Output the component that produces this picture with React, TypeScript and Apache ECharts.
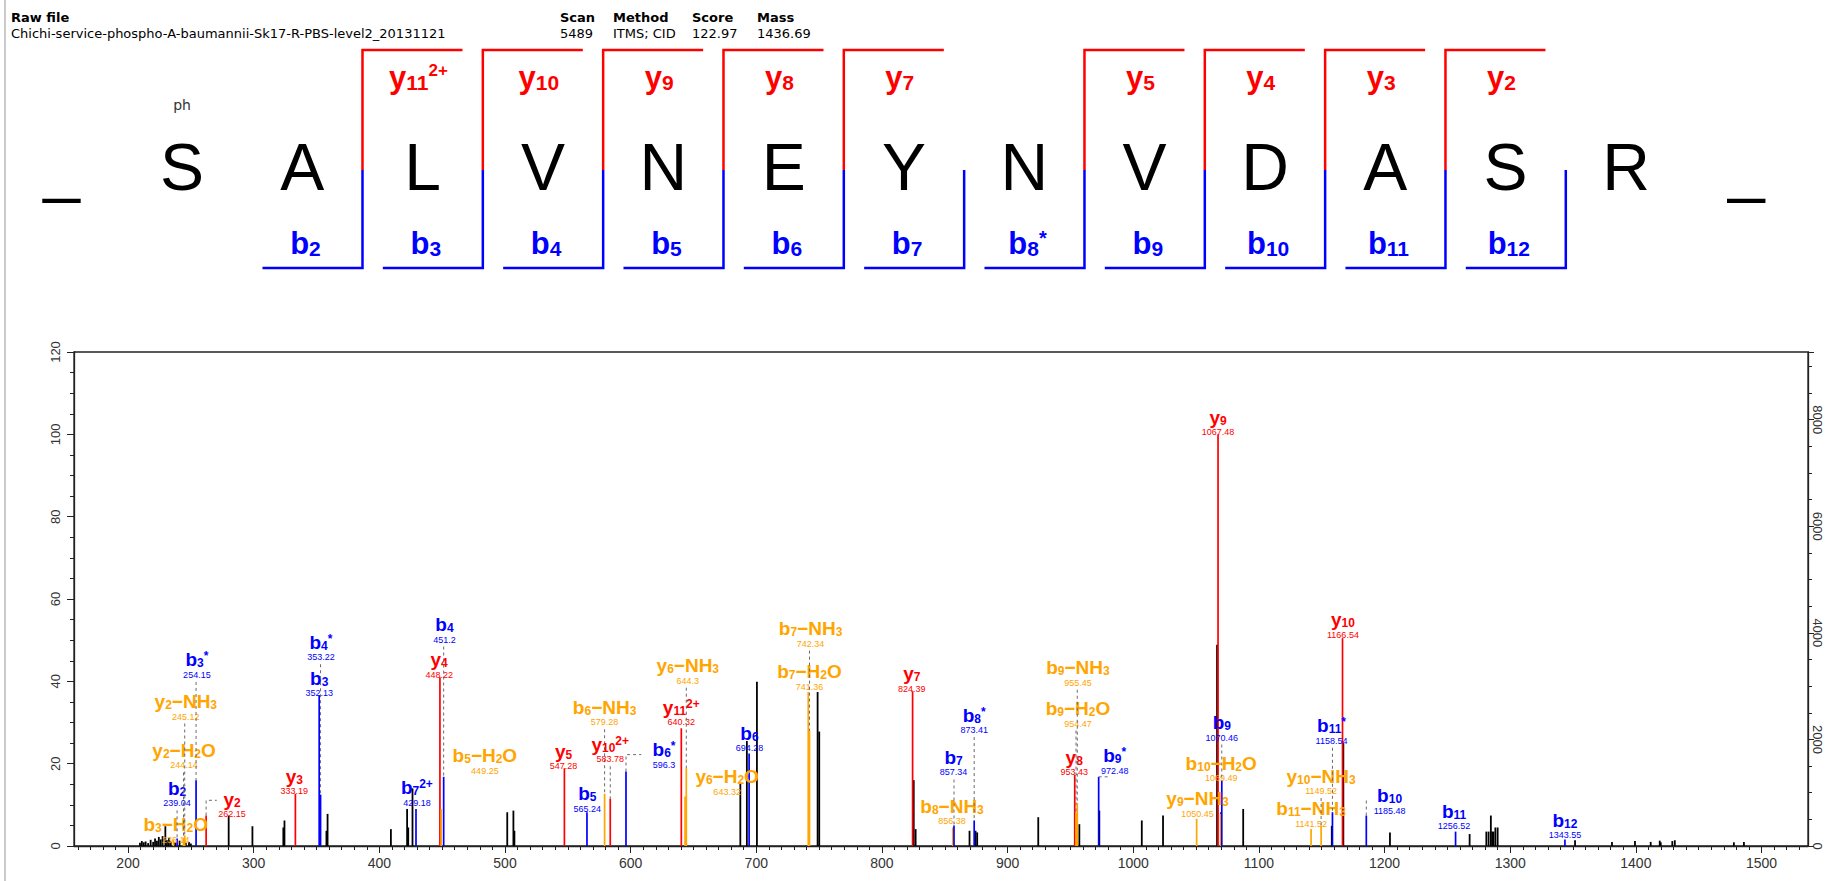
import React, { useEffect, useRef } from 'react';
import * as echarts from 'echarts';

const FONT = "'Liberation Sans', Arial, Helvetica, sans-serif";
const UI_FONT = "'DejaVu Sans', Verdana, sans-serif";
const RED = '#ff0000';
const BLUE = '#0000ff';
const ORANGE = '#ffa500';

// ---------- header ----------
const headerTitles = ['Raw file', 'Scan', 'Method', 'Score', 'Mass'];
const headerValues = ['Chichi-service-phospho-A-baumannii-Sk17-R-PBS-level2_20131121', '5489', 'ITMS; CID', '122.97', '1436.69'];
const headerX = [11, 560, 613, 692, 757];

// ---------- peptide sequence ----------
const sequence = ['S', 'A', 'L', 'V', 'N', 'E', 'Y', 'N', 'V', 'D', 'A', 'S', 'R'];
const modifiedResidue = 0;
const modificationLabel = 'ph';
const yIonSites = [2, 3, 4, 5, 6, 8, 9, 10, 11];
const yIonNumbers = ['11', '10', '9', '8', '7', '5', '4', '3', '2'];
const yIonCharges = ['2+', '', '', '', '', '', '', '', ''];
const bIonSites = [2, 3, 4, 5, 6, 7, 8, 9, 10, 11, 12];
const bIonNumbers = ['2', '3', '4', '5', '6', '7', '8', '9', '10', '11', '12'];
const bIonMarks = ['', '', '', '', '', '', '*', '', '', '', ''];

// ---------- spectrum ----------
const basePeakIntensity = 7725;
const xTickValues = [200, 300, 400, 500, 600, 700, 800, 900, 1000, 1100, 1200, 1300, 1400, 1500];

const otherPeakMz = [209.5, 211, 212.5, 214, 216, 218, 220, 221.5, 223, 224.5, 226, 227.5, 229.7, 231, 232.5, 234, 237.5, 241, 246, 248.5, 250,
  280.1, 299, 323.6, 324.5, 357.9, 358.8, 409.2, 422.1, 423, 426.4, 501.8, 506.7, 507.5, 687.3, 692.5, 700.5, 748.8, 750.1,
  825.3, 826.8, 869.7, 874.5, 875.8, 924.4, 957.1, 973, 1006.8, 1023.7, 1066.7, 1069.9, 1087.5, 1158, 1167.2, 1204.3, 1267.7,
  1281, 1282.8, 1284.6, 1285.7, 1286.7, 1288.2, 1290, 1351.6, 1381, 1399.3, 1411.8, 1419, 1419.8, 1429, 1431, 1478, 1486];
const otherPeakInt = [0.8, 1.2, 0.9, 1.1, 0.7, 1.5, 1.0, 1.8, 1.3, 2.2, 1.6, 2.4, 4.8, 1.4, 1.9, 1.1, 0.9, 1.3, 0.8, 1.0, 0.6,
  7.4, 4.8, 4.5, 6.2, 3.7, 7.8, 4.1, 9, 4.5, 14, 8.2, 8.6, 3.7, 15.4, 25.5, 39.9, 37.4, 27.8,
  16, 4.1, 3.7, 3.7, 3.3, 7, 5.3, 8.6, 6.2, 7.4, 48.9, 8.2, 9, 4.9, 25, 3.3, 2.9,
  3.5, 3.5, 7.4, 3.5, 3.5, 4.5, 4.5, 1.4, 1.0, 1.2, 1.0, 1.3, 0.9, 1.2, 1.4, 0.9, 1.0];

const ionLabels = ['b3-H2O', 'b2', 'y2-H2O', 'y2-NH3', 'b3*', 'y2', 'y3', 'b3', 'b4*', 'b7^2+', 'y4', 'b5-H2O', 'b4', 'y5', 'b5',
  'b6-NH3', 'y10^2+', 'b6*', 'y11^2+', 'y6-NH3', 'y6-H2O', 'b6', 'b7-H2O', 'b7-NH3', 'y7', 'b8-NH3', 'b7', 'b8*', 'y8',
  'b9-H2O', 'b9-NH3', 'b9*', 'y9-NH3', 'y9', 'b10-H2O', 'b9', 'b11-NH3', 'y10-NH3', 'b11*', 'y10', 'b10', 'b11', 'b12'];
const ionMzText = ['236.14', '239.04', '244.14', '245.12', '254.15', '262.15', '333.19', '352.13', '353.22', '429.18', '448.22',
  '449.25', '451.2', '547.28', '565.24', '579.28', '583.78', '596.3', '640.32', '644.3', '643.32', '694.28', '741.36', '742.34',
  '824.39', '856.38', '857.34', '873.41', '953.43', '954.47', '955.45', '972.48', '1050.45', '1067.48', '1069.49', '1070.46',
  '1141.52', '1149.52', '1158.54', '1166.54', '1185.48', '1256.52', '1343.55'];
const ionIntensity = [1.5, 1.8, 2.0, 2.6, 16.0, 7.4, 12.7, 36.6, 12.5, 9.0, 41.0, 9.0, 16.8, 18.9, 8.2,
  12.7, 11.5, 18.1, 28.6, 18.9, 12.0, 22.5, 37.4, 28.0, 37.6, 4.5, 5.0, 6.2, 17.3,
  8.0, 10.5, 16.8, 6.6, 100, 7.8, 16.0, 4.1, 4.9, 8.2, 50.5, 7.4, 3.5, 1.6];
// label anchors (m/z, relative intensity) of each annotation
const labelAnchorMz = [238, 239.04, 244.6, 246, 254.8, 282.8, 332.3, 352.13, 353.5, 429.9, 447.6, 484, 451.8, 546.6, 565.5,
  579.28, 583.78, 626.6, 640.32, 645.5, 676.8, 694.6, 742.3, 743.2, 823.8, 855.8, 857.0, 873.41, 953,
  956, 956, 985.2, 1051.2, 1067.48, 1070, 1070.46, 1141.52, 1149.52, 1157.8, 1166.9, 1204, 1255.3, 1343.55];
const labelAnchorPct = [5.2, 14.0, 23.2, 35.1, 45.2, 11.3, 17.0, 40.7, 49.5, 14.2, 45.2, 21.9, 53.8, 23.0, 12.7,
  33.7, 24.7, 23.4, 33.7, 43.8, 16.8, 27.4, 42.3, 52.8, 41.9, 9.6, 21.5, 31.8, 21.5,
  33.4, 43.3, 21.9, 11.5, 104.1, 20.1, 30.0, 9.0, 17.0, 29.2, 55.0, 12.2, 8.5, 6.3];
// 0: no leader, 1: vertical dashed leader, [pct, mz]: elbow leader
const leaderKind: any[] = [0, 1, 1, 1, 1, [11.1, 270.6], 0, 1, 1, 1, 0, 0, 1, 0, 0,
  1, 1, [22.2, 608.4], 0, 1, 0, 0, 0, 1, 0, 0, 1, 1, 0,
  1, 1, [16.8, 980], 0, 0, 0, 1, 0, 1, 1, 0, [11.5, 1185.48], 0, 0];

const ionMz = ionMzText.map(Number);

function ionColor(label: string) {
  if (label.indexOf('-') >= 0) return ORANGE;
  return label[0] === 'b' ? BLUE : RED;
}

function ionRich(label: string) {
  const m = label.match(/^([by])(\d+)(.*)$/);
  if (!m) return label;
  let s = `{m|${m[1]}}{s|${m[2]}}`;
  const rest = m[3];
  if (rest === '*') s += '{p|*}';
  else if (rest === '^2+') s += '{p|2+}';
  else if (rest === '-H2O') s += '{m|−H}{s|2}{m|O}';
  else if (rest === '-NH3') s += '{m|−NH}{s|3}';
  return s;
}

function richFor(color: string, main: number, sub: number, sup: number) {
  return {
    m: { fontSize: main, fontWeight: 'bold', fontFamily: FONT, fill: color, color },
    s: { fontSize: sub, fontWeight: 'bold', fontFamily: FONT, fill: color, color, verticalAlign: 'bottom' },
    p: { fontSize: sup, fontWeight: 'bold', fontFamily: FONT, fill: color, color, verticalAlign: 'top' },
  };
}

// top panel geometry
const SEQ_X0 = 182;
const SEQ_DX = 120.33;
const SEQ_Y = 167;
const BR_TOP = 50;
const BR_MID = 170;
const BR_BOT = 268;
const BR_W = 100;
const boundaryX = (r: number) => SEQ_X0 + (r - 0.5) * SEQ_DX;

function buildGraphic() {
  const els: any[] = [];
  els.push({ type: 'line', shape: { x1: 5, y1: 0, x2: 5, y2: 881 }, style: { stroke: '#a8a8a8', lineWidth: 1.2 } });
  headerTitles.forEach((t, i) => {
    els.push({ type: 'text', x: headerX[i], y: 17, style: { text: t, font: `bold 13px ${UI_FONT}`, fill: '#000', align: 'left', verticalAlign: 'middle', textAlign: 'left', textVerticalAlign: 'middle' } });
    els.push({ type: 'text', x: headerX[i], y: 33, style: { text: headerValues[i], font: `13px ${UI_FONT}`, fill: '#000', align: 'left', verticalAlign: 'middle', textAlign: 'left', textVerticalAlign: 'middle' } });
  });
  const letters = ['_', ...sequence, '_'];
  letters.forEach((c, k) => {
    const x = SEQ_X0 + (k - 1) * SEQ_DX;
    els.push({ type: 'text', x, y: SEQ_Y, style: { text: c, font: `66px ${FONT}`, fill: '#000', align: 'center', verticalAlign: 'middle', textAlign: 'center', textVerticalAlign: 'middle' } });
  });
  els.push({ type: 'text', x: SEQ_X0 + modifiedResidue * SEQ_DX, y: 105, style: { text: modificationLabel, font: `14px ${UI_FONT}`, fill: '#333', align: 'center', verticalAlign: 'middle', textAlign: 'center', textVerticalAlign: 'middle' } });
  yIonSites.forEach((r, k) => {
    const x = boundaryX(r);
    els.push({ type: 'polyline', shape: { points: [[x + BR_W, BR_TOP], [x, BR_TOP], [x, BR_MID]] }, style: { stroke: RED, lineWidth: 2.5, fill: null } });
    const txt = `{m|y}{s|${yIonNumbers[k]}}` + (yIonCharges[k] ? `{p|${yIonCharges[k]}}` : '');
    els.push({ type: 'text', x: x + 56, y: 77, style: { text: txt, rich: richFor(RED, 31, 21, 17), fill: RED, align: 'center', verticalAlign: 'middle', textAlign: 'center', textVerticalAlign: 'middle' } });
  });
  bIonSites.forEach((r, k) => {
    const x = boundaryX(r);
    els.push({ type: 'polyline', shape: { points: [[x, BR_MID], [x, BR_BOT], [x - BR_W, BR_BOT]] }, style: { stroke: BLUE, lineWidth: 2.5, fill: null } });
    const txt = `{m|b}{s|${bIonNumbers[k]}}` + (bIonMarks[k] ? `{p|${bIonMarks[k]}}` : '');
    els.push({ type: 'text', x: x - 57, y: 243, style: { text: txt, rich: richFor(BLUE, 31, 21, 20), fill: BLUE, align: 'center', verticalAlign: 'middle', textAlign: 'center', textVerticalAlign: 'middle' } });
  });
  return els;
}

function buildOption() {
  const axisColor = '#222';
  const plain = (v: number) => String(v);
  const xMinorTicks: number[] = [];
  for (let v = 160; v <= 1530; v += 10) xMinorTicks.push(v);
  const blackData = otherPeakMz.map((m, i) => [m, otherPeakInt[i]]);
  const ionData = ionMz.map((m, i) => [m, ionIntensity[i], i]);
  const dash = { stroke: '#6a6a6a', lineWidth: 1, lineDash: [3, 3] };

  return {
    animation: false,
    backgroundColor: '#fff',
    graphic: { elements: buildGraphic() },
    grid: { left: 74, top: 352, width: 1734, height: 494, show: true, borderColor: axisColor, borderWidth: 1.3, backgroundColor: 'transparent' },
    xAxis: [
      {
        type: 'value', min: 157, max: 1537, position: 'bottom',
        axisLine: { show: true, onZero: false, lineStyle: { color: axisColor, width: 1.3 } },
        axisTick: { show: true, length: 7, customValues: xTickValues, lineStyle: { color: axisColor } },
        axisLabel: { customValues: xTickValues, formatter: plain, color: '#333', fontSize: 14, fontFamily: FONT, margin: 10 },
        splitLine: { show: false },
      },
      {
        type: 'value', min: 157, max: 1537, position: 'bottom',
        axisLine: { show: false },
        axisTick: { show: true, length: 4, customValues: xMinorTicks, lineStyle: { color: axisColor } },
        axisLabel: { show: false },
        splitLine: { show: false },
      },
    ],
    yAxis: [
      {
        type: 'value', min: 0, max: 120, interval: 20, position: 'left',
        axisLine: { show: true, lineStyle: { color: axisColor, width: 1.3 } },
        axisTick: { show: true, length: 7, lineStyle: { color: axisColor } },
        minorTick: { show: true, splitNumber: 4, length: 4, lineStyle: { color: axisColor } },
        axisLabel: { rotate: 90, margin: 12, formatter: plain, color: '#333', fontSize: 13, fontFamily: FONT },
        splitLine: { show: false },
      },
      {
        type: 'value', min: 0, max: (120 * basePeakIntensity) / 100, interval: 2000, position: 'right',
        axisLine: { show: true, lineStyle: { color: axisColor, width: 1.3 } },
        axisTick: { show: true, length: 6, lineStyle: { color: axisColor } },
        minorTick: { show: true, splitNumber: 4, length: 4, lineStyle: { color: axisColor } },
        axisLabel: { rotate: -90, margin: 3, formatter: plain, color: '#333', fontSize: 13, fontFamily: FONT, showMaxLabel: false },
        splitLine: { show: false },
      },
    ],
    series: [
      {
        type: 'custom', xAxisIndex: 0, yAxisIndex: 0, silent: true, z: 2,
        data: blackData,
        renderItem: (_p: any, api: any) => {
          const a = api.coord([api.value(0), 0]);
          const b = api.coord([api.value(0), api.value(1)]);
          return { type: 'line', shape: { x1: a[0], y1: a[1], x2: b[0], y2: b[1] }, style: { stroke: '#000', lineWidth: 1.8 } };
        },
      },
      {
        type: 'custom', xAxisIndex: 0, yAxisIndex: 0, silent: true, z: 3,
        data: ionData,
        renderItem: (_p: any, api: any) => {
          const i = api.value(2);
          const a = api.coord([api.value(0), 0]);
          const b = api.coord([api.value(0), api.value(1)]);
          return { type: 'line', shape: { x1: a[0], y1: a[1], x2: b[0], y2: b[1] }, style: { stroke: ionColor(ionLabels[i]), lineWidth: 1.7 } };
        },
      },
      {
        type: 'custom', xAxisIndex: 0, yAxisIndex: 0, silent: true, z: 4, clip: false,
        data: ionData,
        renderItem: (_p: any, api: any) => {
          const i = api.value(2);
          const color = ionColor(ionLabels[i]);
          const peak = api.coord([ionMz[i], ionIntensity[i]]);
          const lab = api.coord([labelAnchorMz[i], labelAnchorPct[i]]);
          const children: any[] = [];
          const lk = leaderKind[i];
          if (lk === 1) {
            const y0 = lab[1] + 22;
            if (y0 < peak[1] - 1) {
              children.push({ type: 'line', shape: { x1: peak[0], y1: y0, x2: peak[0], y2: peak[1] }, style: dash });
            }
          } else if (Array.isArray(lk)) {
            const h = api.coord([lk[1], lk[0]]);
            children.push({ type: 'polyline', shape: { points: [[peak[0], peak[1]], [peak[0], h[1]], [h[0], h[1]]] }, style: { ...dash, fill: null } });
          }
          children.push({
            type: 'text', x: lab[0], y: lab[1],
            style: { text: ionRich(ionLabels[i]), rich: richFor(color, 19, 12, 12), fill: color, font: `bold 19px ${FONT}`, align: 'center', verticalAlign: 'middle', textAlign: 'center', textVerticalAlign: 'middle' },
          });
          children.push({
            type: 'text', x: lab[0], y: lab[1] + 15,
            style: { text: ionMzText[i], fill: color, font: `9px ${FONT}`, align: 'center', verticalAlign: 'middle', textAlign: 'center', textVerticalAlign: 'middle' },
          });
          return { type: 'group', children };
        },
      },
    ],
  };
}

export default function App() {
  const ref = useRef<HTMLDivElement>(null);
  useEffect(() => {
    if (!ref.current) return;
    const chart = echarts.init(ref.current, null, { renderer: 'svg' });
    chart.setOption(buildOption() as any);
    return () => chart.dispose();
  }, []);
  return <div ref={ref} style={{ position: 'fixed', left: 0, top: 0, width: 1829, height: 881, background: '#fff' }} />;
}
